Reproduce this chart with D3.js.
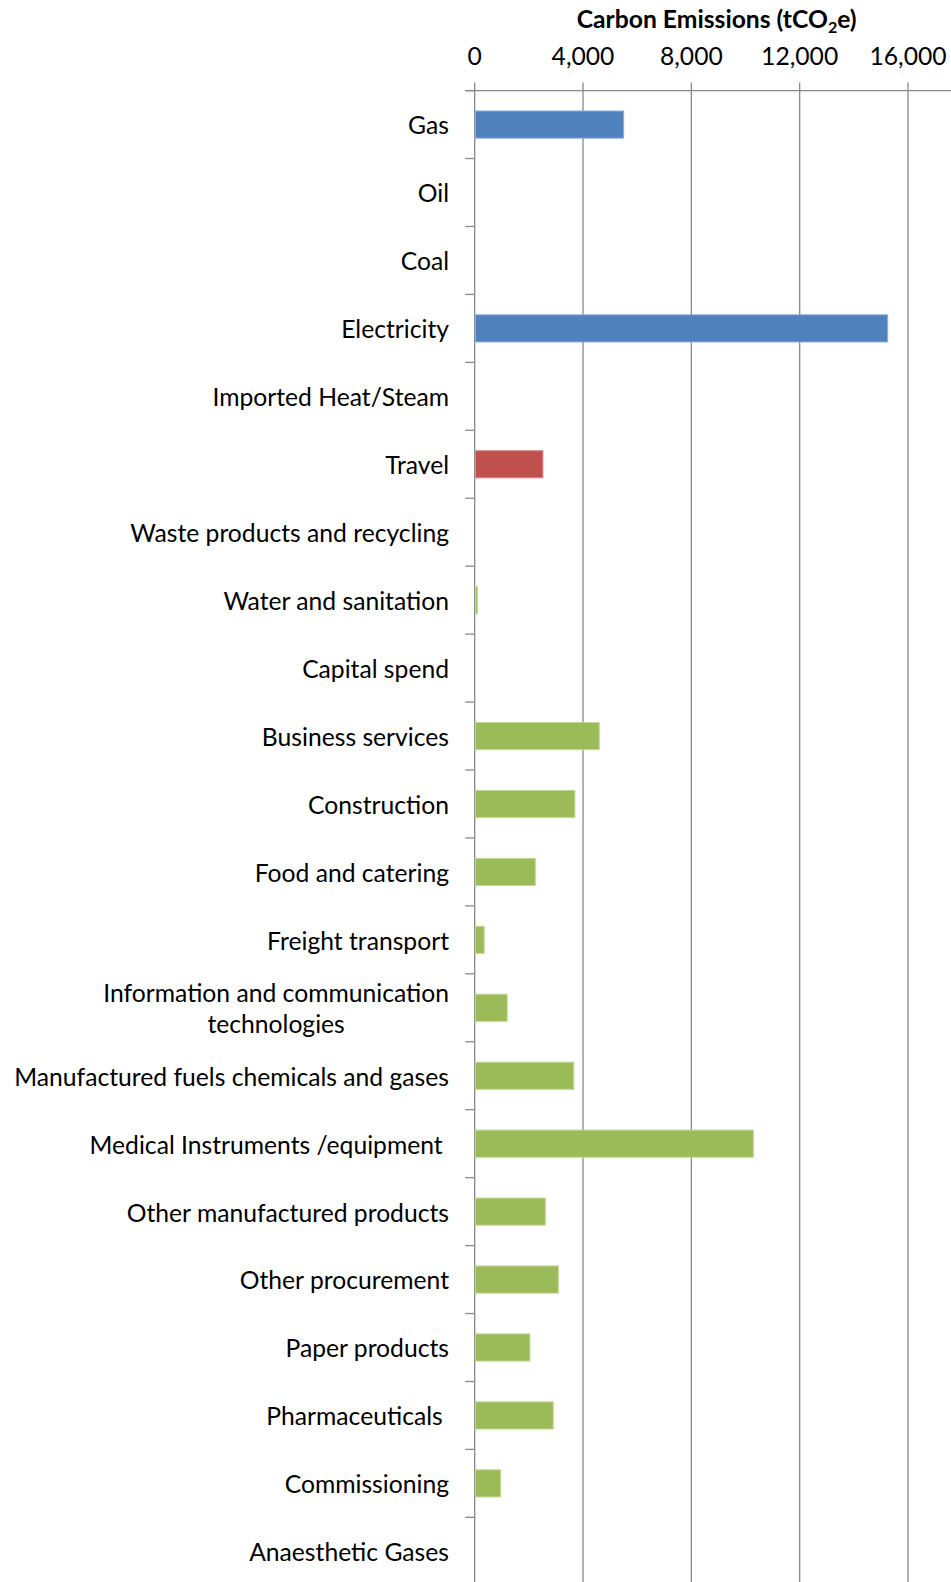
<!DOCTYPE html>
<html>
<head>
<meta charset="utf-8">
<script src="https://cdn.jsdelivr.net/npm/d3@7"></script>
<style>
  html, body { margin: 0; padding: 0; background: #fff; }
  svg { display: block; }
  text { font-family: Lato, "Open Sans", "Liberation Sans", sans-serif; fill: #000; white-space: pre; }
</style>
</head>
<body>
<svg id="chart" width="951" height="1582"></svg>
<script>
// Emission sources, top to bottom
const categories = [
  "Gas", "Oil", "Coal", "Electricity", "Imported Heat/Steam", "Travel",
  "Waste products and recycling", "Water and sanitation", "Capital spend",
  "Business services", "Construction", "Food and catering", "Freight transport",
  "Information and communication technologies",
  "Manufactured fuels chemicals and gases", "Medical Instruments /equipment ",
  "Other manufactured products", "Other procurement", "Paper products",
  "Pharmaceuticals ", "Commissioning", "Anaesthetic Gases"
];

// Carbon emissions per source (tCO2e)
const emissions = [
  5500, 0, 0, 15250, 0, 2520,
  0, 100, 0,
  4600, 3700, 2240, 350,
  1200,
  3660, 10290,
  2610, 3090, 2040,
  2900, 960, 0
];

// Scope group of each source
const groups = [
  "energy", "energy", "energy", "energy", "energy", "travel",
  "procurement", "procurement", "procurement",
  "procurement", "procurement", "procurement", "procurement",
  "procurement",
  "procurement", "procurement",
  "procurement", "procurement", "procurement",
  "procurement", "procurement", "procurement"
];

// Wrapped label lines for long category names
const wrappedLabels = {
  "Information and communication technologies": ["Information and communication", "technologies"]
};

const xTicks = [0, 4000, 8000, 12000, 16000];
const xDomain = [0, 18000];

const groupColor = { energy: "#4F81BD", travel: "#C0504D", procurement: "#9BBB59" };
const groupEdge  = { energy: "#8FB0D9", travel: "#DA8C8A", procurement: "#C4DA98" };

const svg = d3.select("#chart");
const W = 951, H = 1582;

const plotLeft = 474.7, axisY = 90.6;
const bandStep = 67.94;
const plotBottom = axisY + bandStep * categories.length;

const x = d3.scaleLinear().domain(xDomain).range([plotLeft, plotLeft + 18000 * (433.3 / 16000)]);
const y = d3.scaleBand().domain(categories).range([axisY, plotBottom])
  .paddingInner(0.6).paddingOuter(0.3);

// Fit the label font to the widest single-line label
const probe = svg.append("text").attr("font-size", 26).text("Manufactured fuels chemicals and gases");
const probeW = probe.node().getComputedTextLength();
probe.remove();
const fs = 26 * 435 / probeW;

const gridColor = "#888888";

// Vertical gridlines with outward ticks above the axis
svg.append("g").selectAll("line").data(xTicks).join("line")
  .attr("x1", d => x(d)).attr("x2", d => x(d))
  .attr("y1", axisY - 8).attr("y2", H + 10)
  .attr("stroke", gridColor).attr("stroke-width", 1.3);

// Top value axis line
svg.append("line")
  .attr("x1", plotLeft - 9.5).attr("x2", W + 5)
  .attr("y1", axisY).attr("y2", axisY)
  .attr("stroke", gridColor).attr("stroke-width", 1.3);

// Category boundary ticks on the left axis
const boundaries = d3.range(categories.length + 1).map(i => axisY + i * bandStep);
svg.append("g").selectAll("line").data(boundaries).join("line")
  .attr("x1", plotLeft - 9.5).attr("x2", plotLeft)
  .attr("y1", d => d).attr("y2", d => d)
  .attr("stroke", gridColor).attr("stroke-width", 1.3);

// Bars
svg.append("g").selectAll("rect").data(categories.map((c, i) => ({ c, v: emissions[i], g: groups[i] })).filter(d => d.v > 0))
  .join("rect")
  .attr("x", x(0) + 0.7)
  .attr("y", d => y(d.c))
  .attr("width", d => x(d.v) - x(0) - 0.7)
  .attr("height", y.bandwidth())
  .attr("fill", d => groupColor[d.g])
  .attr("stroke", d => groupEdge[d.g])
  .attr("stroke-width", 1);

// Value tick labels
svg.append("g").selectAll("text").data(xTicks).join("text")
  .attr("x", d => x(d)).attr("y", 65)
  .attr("text-anchor", "middle")
  .attr("font-size", fs)
  .text(d => d3.format(",")(d));

// Axis title
const title = svg.append("text")
  .attr("x", 716.7).attr("y", 28)
  .attr("text-anchor", "middle")
  .attr("font-size", fs)
  .attr("font-weight", "bold");
title.append("tspan").text("Carbon Emissions (tCO");
title.append("tspan").attr("font-size", fs * 0.65).attr("dy", 5).text("2");
title.append("tspan").attr("dy", -5).text("e)");

// Category labels
const labelRight = 449;
const labelShift = 2;
const labels = svg.append("g");
categories.forEach(c => {
  const cy = y(c) + y.bandwidth() / 2 + labelShift;
  const lines = wrappedLabels[c];
  if (lines) {
    const lh = 31.5;
    const first = labels.append("text")
      .attr("x", labelRight).attr("y", cy - lh / 2 + fs * 0.32)
      .attr("text-anchor", "end").attr("font-size", fs).text(lines[0]);
    const w = first.node().getComputedTextLength();
    const mid = labelRight - w / 2;
    first.attr("x", mid).attr("text-anchor", "middle");
    labels.append("text")
      .attr("x", mid).attr("y", cy + lh / 2 + fs * 0.32)
      .attr("text-anchor", "middle").attr("font-size", fs).text(lines[1]);
  } else {
    labels.append("text")
      .attr("x", labelRight).attr("y", cy + fs * 0.32)
      .attr("text-anchor", "end").attr("font-size", fs).text(c);
  }
});
</script>
</body>
</html>
